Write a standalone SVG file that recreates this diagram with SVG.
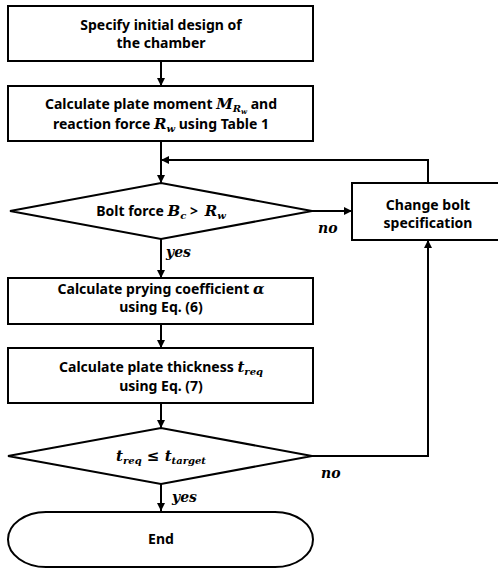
<svg xmlns="http://www.w3.org/2000/svg" width="498" height="571" viewBox="0 0 498 571">
<defs>
<marker id="ah" viewBox="0 0 10 10" refX="10" refY="5" markerWidth="8" markerHeight="8" markerUnits="userSpaceOnUse" orient="auto">
<path d="M0,0 L10,5 L0,10 Z" fill="#000"/>
</marker>
</defs>
<style>
.s{fill:#fff;stroke:#000;stroke-width:2}
.t{font-family:"Noto Sans","Open Sans",sans-serif;font-weight:bold;font-size:14px;text-anchor:middle;fill:#000}
.m{font-family:"DejaVu Serif",serif;font-style:italic;font-weight:bold}
.l{font-family:"DejaVu Serif",serif;font-style:italic;font-weight:bold;font-size:14px;fill:#000}
.c{fill:none;stroke:#000;stroke-width:2}
</style>
<rect width="498" height="571" fill="#fff"/>
<g id="connectors">
<line class="c" x1="161" y1="61" x2="161" y2="86" marker-end="url(#ah)"/>
<line class="c" x1="161" y1="141" x2="161" y2="183" marker-end="url(#ah)"/>
<polyline class="c" points="428,183 428,160 161,160" marker-end="url(#ah)"/>
<line class="c" x1="312" y1="211" x2="352" y2="211" marker-end="url(#ah)"/>
<line class="c" x1="161" y1="239" x2="161" y2="278" marker-end="url(#ah)"/>
<line class="c" x1="161" y1="324" x2="161" y2="348" marker-end="url(#ah)"/>
<line class="c" x1="161" y1="403" x2="161" y2="428" marker-end="url(#ah)"/>
<polyline class="c" points="312,456 428,456 428,240" marker-end="url(#ah)"/>
<line class="c" x1="161" y1="484" x2="161" y2="511" marker-end="url(#ah)"/>
<text class="l" x="318" y="233">no</text>
<text class="l" x="166" y="257">yes</text>
<text class="l" x="321" y="478">no</text>
<text class="l" x="172" y="502">yes</text>
</g>
<g id="n1">
<rect class="s" x="8" y="6" width="305" height="55"/>
<text class="t" x="161" y="30">Specify initial design of</text>
<text class="t" x="161" y="48">the chamber</text>
</g>
<g id="n2">
<rect class="s" x="8" y="86" width="305" height="55"/>
<text class="t" x="161" y="109">Calculate plate moment <tspan class="m" font-size="15">M</tspan><tspan class="m" font-size="10" dy="3">R</tspan><tspan class="m" font-size="7" dy="2">w</tspan><tspan dy="-5"> and</tspan></text>
<text class="t" x="161" y="129">reaction force <tspan class="m" font-size="15">R</tspan><tspan class="m" font-size="10" dy="3">w</tspan><tspan dy="-3"> using Table 1</tspan></text>
</g>
<g id="n3">
<polygon class="s" points="10,211 161,183 312,211 161,239"/>
<text class="t" x="161" y="216">Bolt force <tspan class="m" font-size="15">B</tspan><tspan class="m" font-size="10" dy="3">c</tspan><tspan dy="-3"> &gt; </tspan><tspan class="m" font-size="15" dx="3">R</tspan><tspan class="m" font-size="10" dy="3">w</tspan></text>
</g>
<g id="n4">
<rect class="s" x="352" y="183" width="152" height="57"/>
<text class="t" x="428" y="210">Change bolt</text>
<text class="t" x="428" y="228">specification</text>
</g>
<g id="n5">
<rect class="s" x="8" y="278" width="305" height="46"/>
<text class="t" x="161" y="294">Calculate prying coefficient <tspan class="m" font-size="15">α</tspan></text>
<text class="t" x="161" y="312">using Eq. (6)</text>
</g>
<g id="n6">
<rect class="s" x="8" y="348" width="305" height="55"/>
<text class="t" x="161" y="372">Calculate plate thickness <tspan class="m" font-size="15">t</tspan><tspan class="m" font-size="10" dy="3">req</tspan></text>
<text class="t" x="161" y="391">using Eq. (7)</text>
</g>
<g id="n7">
<polygon class="s" points="8,456 161,428 312,456 161,484"/>
<text class="t" x="161" y="461"><tspan class="m" font-size="15">t</tspan><tspan class="m" font-size="10" dy="3">req</tspan><tspan class="m" font-size="15" dy="-3"> ≤ t</tspan><tspan class="m" font-size="10" dy="3">target</tspan></text>
</g>
<g id="n8">
<rect class="s" x="8" y="512" width="305" height="55" rx="38" ry="27.5"/>
<text class="t" x="161" y="544">End</text>
</g>
</svg>
